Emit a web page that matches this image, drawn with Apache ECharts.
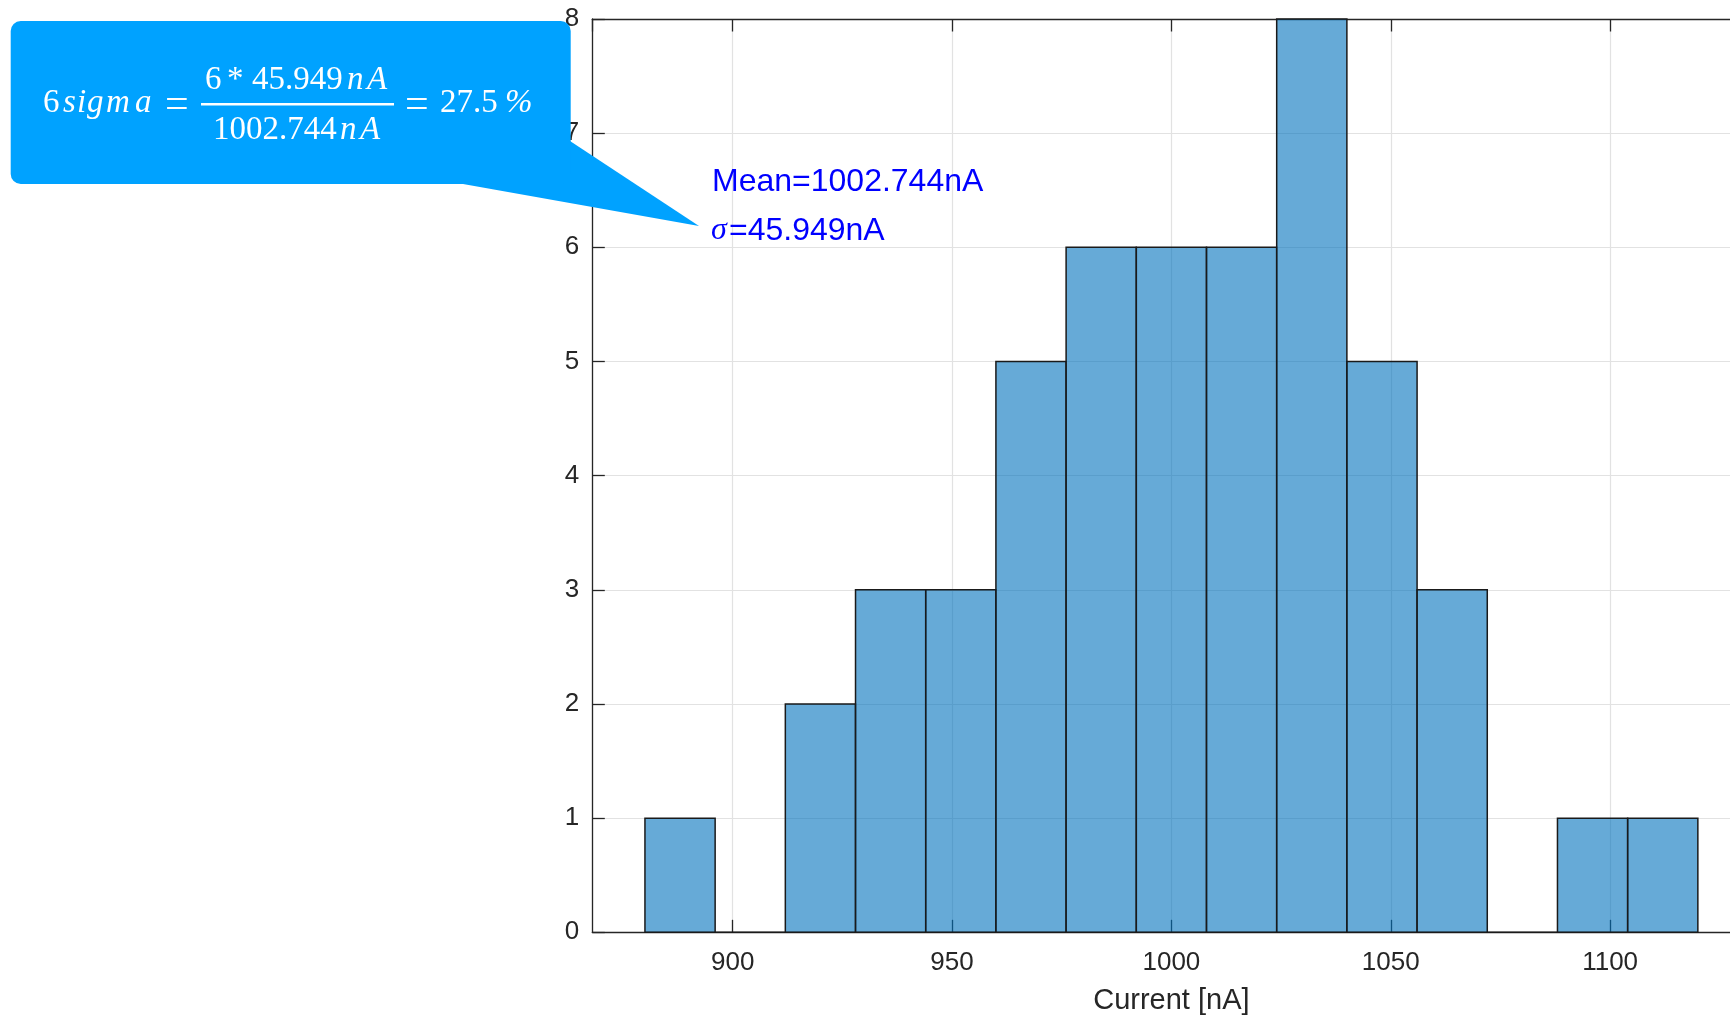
<!DOCTYPE html>
<html>
<head>
<meta charset="utf-8">
<style>
html,body{margin:0;padding:0;background:#fff;}
#chart{width:1730px;height:1015px;}
</style>
<script src="https://cdn.jsdelivr.net/npm/echarts@6/dist/echarts.min.js"></script>
</head>
<body>
<div id="chart"></div>
<script>
// ---- data ----
const binEdges = [880, 896, 912, 928, 944, 960, 976, 992, 1008, 1024, 1040, 1056, 1072, 1088, 1104, 1120];
const counts   = [1, 0, 2, 3, 3, 5, 6, 6, 6, 8, 5, 3, 0, 1, 1];
const xRange = [868, 1132];
const yTicks = [0, 1, 2, 3, 4, 5, 6, 7, 8];
const xTickLabels = [900, 950, 1000, 1050, 1100];
const xLabel = 'Current [nA]';
const meanText = 'Mean=1002.744nA';
const sigmaValue = '=45.949nA';

const barData = counts.map((c, i) => [binEdges[i], binEdges[i + 1], c]);

const axisColor = '#262626';
const gridColor = '#e2e2e2';
const sans = '"Liberation Sans", Arial, Helvetica, sans-serif';
const serif = '"Liberation Serif", "Times New Roman", serif';

function T(x, baseline, text, opts) {
  opts = opts || {};
  const size = opts.size || 33;
  const style = (opts.italic ? 'italic ' : '') + size + 'px ' + (opts.family || serif);
  return {
    type: 'text', z: 110, x: x, y: opts.center != null ? opts.center : baseline - 0.32 * size,
    style: {
      text: text, fill: opts.fill || '#fff', font: style,
      textAlign: 'left', textVerticalAlign: 'middle', align: 'left', verticalAlign: 'middle'
    }
  };
}

const graphics = [
  { type: 'polygon', z: 100, shape: { points: [[570, 141], [699, 226], [463, 184], [463, 141]] }, style: { fill: '#00a2ff' } },
  { type: 'rect', z: 100, shape: { x: 10.7, y: 21, width: 560, height: 163, r: 10 }, style: { fill: '#00a2ff' } },
  // 6sigma =
  T(43, 114, '6'),
  T(63, 114, 's', { italic: true }),
  T(77, 114, 'i', { italic: true }),
  T(87, 114, 'g', { italic: true }),
  T(106, 114, 'm', { italic: true }),
  T(135, 114, 'a', { italic: true }),
  T(165, 0, '=', { size: 42, center: 106 }),
  // fraction
  { type: 'rect', z: 110, shape: { x: 201, y: 103, width: 193, height: 2.6 }, style: { fill: '#fff' } },
  T(205, 90.5, '6'),
  T(227, 90.5, '*'),
  T(252, 90.5, '45.949'),
  T(347, 90.5, 'n', { italic: true }),
  T(367, 90.5, 'A', { italic: true }),
  T(213, 141, '1002.744'),
  T(340, 141, 'n', { italic: true }),
  T(360, 141, 'A', { italic: true }),
  T(405, 0, '=', { size: 42, center: 106 }),
  T(440, 114, '27.5'),
  T(505, 114, '%', { italic: true }),
  // Mean / sigma annotation
  T(712, 192.7, meanText, { size: 32, family: sans, fill: '#0000ff' }),
  T(711, 241.3, 'σ', { size: 32, italic: true, family: serif, fill: '#0000ff' }),
  T(729, 241.3, sigmaValue, { size: 32, family: sans, fill: '#0000ff' })
];

const chart = echarts.init(document.getElementById('chart'), null, { renderer: 'canvas' });
chart.setOption({
  animation: false,
  backgroundColor: '#fff',
  grid: { left: 592.3, top: 19, width: 1158.2, height: 913.3, containLabel: false, outerBoundsMode: 'none' },
  xAxis: [
    {
      type: 'value', min: xRange[0], max: xRange[1], position: 'bottom',
      axisLine: { show: true, onZero: false, lineStyle: { color: axisColor, width: 1.3 } },
      axisTick: { show: true, inside: true, length: 12.5, lineStyle: { color: axisColor, width: 1.3 } },
      axisLabel: {
        show: true, margin: 18, color: axisColor, fontSize: 26, fontFamily: sans,
        showMinLabel: false, showMaxLabel: false,
        formatter: v => xTickLabels.indexOf(v) >= 0 ? String(v) : ''
      },
      splitLine: { show: true, lineStyle: { color: gridColor, width: 1.2 } },
      name: xLabel, nameLocation: 'middle', nameGap: 54,
      nameTextStyle: { color: axisColor, fontSize: 29, fontFamily: sans }
    },
    {
      type: 'value', min: xRange[0], max: xRange[1], position: 'top',
      axisLine: { show: true, onZero: false, lineStyle: { color: axisColor, width: 1.3 } },
      axisTick: { show: true, inside: true, length: 12.5, lineStyle: { color: axisColor, width: 1.3 } },
      axisLabel: { show: false },
      splitLine: { show: false }
    }
  ],
  yAxis: [
    {
      type: 'value', min: yTicks[0], max: yTicks[yTicks.length - 1], interval: 1,
      axisLine: { show: true, onZero: false, lineStyle: { color: axisColor, width: 1.3 } },
      axisTick: { show: true, inside: true, length: 12.5, lineStyle: { color: axisColor, width: 1.3 } },
      axisLabel: { show: true, margin: 13, color: axisColor, fontSize: 26, fontFamily: sans },
      splitLine: { show: true, lineStyle: { color: gridColor, width: 1.2 } }
    }
  ],
  series: [
    {
      type: 'custom',
      xAxisIndex: 0, yAxisIndex: 0,
      data: barData,
      encode: { x: [0, 1], y: 2 },
      renderItem: function (params, api) {
        const p0 = api.coord([api.value(0), 0]);
        const p1 = api.coord([api.value(1), api.value(2)]);
        return {
          type: 'rect',
          shape: { x: p0[0], y: p1[1], width: p1[0] - p0[0], height: p0[1] - p1[1] },
          style: { fill: 'rgba(0,114,189,0.6)', stroke: '#1a1a1a', lineWidth: 1.5 }
        };
      }
    }
  ],
  graphic: graphics
});
</script>
</body>
</html>
